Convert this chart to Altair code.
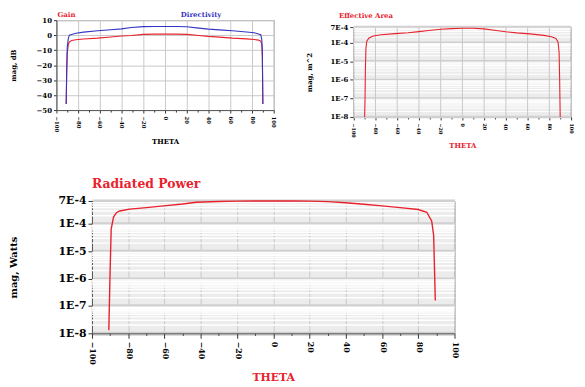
import altair as alt
import pandas as pd

# ---------------- data ----------------
theta_ga = [-91, -90.5, -90, -89, -88, -86, -82, -75, -62, -50, -40, -31, -20, -10,
            0, 10, 20, 31, 40, 50, 62, 75, 82, 86, 88, 89, 89.5, 90]
gain_db = [-46, -25, -12, -6, -4.5, -3.6, -3.1, -2.6, -2.0, -1.2, -0.6, -0.2, 0.5, 0.7,
           0.7, 0.7, 0.5, -0.2, -0.8, -1.3, -2.0, -2.5, -2.9, -3.3, -4.0, -6, -14, -46]
directivity_db = [-46, -22, -8, -2, 0.0, 0.5, 1.3, 2.0, 2.9, 3.6, 4.2, 5.1, 5.7, 5.8,
                  5.8, 5.8, 5.6, 4.7, 4.0, 3.5, 2.9, 2.1, 1.6, 0.8, 0.3, -3, -10, -46]

theta_area = [-90, -89.6, -89.3, -88.8, -88, -86, -82, -75, -62, -50, -40, -31, -20, -10,
              0, 10, 20, 31, 40, 50, 62, 75, 82, 86, 88, 89, 89.5, 90]
eff_area = [1e-8, 1e-7, 3e-6, 5e-5, 1.2e-4, 1.8e-4, 2.3e-4, 2.7e-4, 3.1e-4, 3.5e-4, 4.0e-4,
            4.6e-4, 5.3e-4, 5.8e-4, 6.0e-4, 6.0e-4, 5.6e-4, 4.6e-4, 3.9e-4, 3.4e-4, 3.0e-4,
            2.5e-4, 2.1e-4, 1.7e-4, 1.1e-4, 3e-5, 1e-6, 1e-8]

theta_pw = [-90.7, -90.0, -89.4, -88.1, -86.5, -84.7, -79.2, -70, -60.5, -50, -42.5, -30,
            -20.5, -10, 0, 10, 20, 30, 40, 50, 60, 70, 80, 84.7, 87.4, 88.5, 89.4]
rad_power = [1.3e-8, 1.8e-6, 6.5e-5, 1.8e-4, 2.6e-4, 3.0e-4, 3.5e-4, 4.0e-4, 4.6e-4, 5.4e-4,
             6.3e-4, 6.7e-4, 6.9e-4, 7e-4, 7e-4, 7e-4, 6.9e-4, 6.6e-4, 6.0e-4, 5.3e-4,
             4.6e-4, 4.0e-4, 3.4e-4, 2.7e-4, 1.3e-4, 3.8e-5, 1.6e-7]

series_names = ["Gain", "Directivity"]
x_ticks = [-100, -90, -80, -70, -60, -50, -40, -30, -20, -10, 0,
           10, 20, 30, 40, 50, 60, 70, 80, 90, 100]
x_major = [-100, -80, -60, -40, -20, 0, 20, 40, 60, 80, 100]
db_ticks = [10, 0, -10, -20, -30, -40, -50]
log_ticks = [7e-4, 1e-4, 1e-5, 1e-6, 1e-7, 1e-8]
minor_grid = [m * d for d in [1e-8, 1e-7, 1e-6, 1e-5, 1e-4] for m in [2, 3, 4, 5, 6, 7, 8, 9]
              if m * d < 7e-4]

RED = "#e8222c"
BLUE = "#3434c4"
FONT = "DejaVu Serif"
GRID = "#c8c8c8"
BAND = "#d0d0d0"
MAJOR20 = "datum.value % 20 === 0"


def theta_axis(label_size, title_size, title_color, title_pad, tick_big, label_pad, grid=True):
    return alt.Axis(
        values=x_ticks, labelExpr=f"{MAJOR20} ? datum.label : ''", labelAngle=90,
        labelOverlap=False, labelFlush=False,
        labelFont=FONT, labelFontWeight="bold", labelFontSize=label_size, labelColor="black",
        labelPadding=label_pad,
        tickSize={"condition": {"test": MAJOR20, "value": tick_big}, "value": 2},
        tickColor="#333", domainColor="#555",
        grid=grid, gridColor=GRID,
        gridOpacity={"condition": {"test": MAJOR20, "value": 1}, "value": 0},
        title="THETA", titleFont=FONT, titleFontWeight="bold", titleFontSize=title_size,
        titleColor=title_color, titlePadding=title_pad,
    )


def log_axis(label_size, title, title_size, title_x, grid_w, grid=True):
    return alt.Axis(
        values=log_ticks, labelExpr="upper(format(datum.value, '.0e'))",
        labelOverlap=False,
        labelFont=FONT, labelFontWeight="bold", labelFontSize=label_size, labelColor="black",
        tickColor="#333", domainColor="#555", tickSize=4, labelPadding=2,
        grid=grid, gridColor=BAND, gridWidth=grid_w,
        title=title, titleFont=FONT, titleFontWeight="bold", titleFontSize=title_size,
        titleColor="black", titleX=title_x,
    )


x_scale = alt.Scale(domain=[-100, 100], nice=False, zero=False)
df_minor = pd.DataFrame({"v": minor_grid})
df_decades = pd.DataFrame({"v": log_ticks})
df_xmajor = pd.DataFrame({"t": x_major})

# ---------------- top-left: Gain / Directivity ----------------
n = len(theta_ga)
df_ga = pd.DataFrame({
    "theta": theta_ga + theta_ga,
    "value": gain_db + directivity_db,
    "series": [series_names[0]] * n + [series_names[1]] * n,
})
color_scale = alt.Scale(domain=series_names, range=[RED, BLUE])
ga_lines = alt.Chart(df_ga).mark_line(strokeWidth=1.1).encode(
    x=alt.X("theta:Q", scale=x_scale, axis=theta_axis(5.5, 7, "black", 6, 3, 3)),
    y=alt.Y("value:Q", scale=alt.Scale(domain=[-50, 10], nice=False),
            axis=alt.Axis(values=db_ticks, labelFont=FONT, labelFontWeight="bold",
                          labelFontSize=7, labelColor="black", tickColor="#333",
                          domainColor="#555", tickSize=3, labelPadding=2,
                          grid=True, gridColor=GRID,
                          title="mag, dB", titleFont=FONT, titleFontWeight="bold",
                          titleFontSize=7, titleColor="black", titleX=-40)),
    color=alt.Color("series:N", scale=color_scale, legend=None),
    detail="series:N",
)
df_names = pd.DataFrame({"series": series_names})


def name_label(idx, xpos):
    return alt.Chart(df_names).transform_filter(
        alt.datum.series == series_names[idx]
    ).mark_text(font=FONT, fontWeight="bold", fontSize=7, align="left",
                baseline="bottom").encode(
        x=alt.value(xpos), y=alt.value(-2), text="series:N",
        color=alt.Color("series:N", scale=color_scale, legend=None),
    )


panel_a = alt.layer(ga_lines, name_label(0, 1), name_label(1, 126)).properties(
    width=220, height=91,
    view=alt.ViewBackground(fill="white", stroke="#999"),
)

# ---------------- top-right: Effective Area (plot area starts 7px lower) ----------------
df_area = pd.DataFrame({"theta": theta_area, "value": eff_area})
B_W, B_H, B_TOP = 220, 98, 7
area_y_scale = alt.Scale(type="log", domain=[1e-8, 7e-4], nice=False, range=[B_H, B_TOP])
b_theta_axis = theta_axis(5, 7, RED, 4, 3, 3, grid=False)

b_bg = alt.Chart(pd.DataFrame({"a": [0]})).mark_rect(
    fill="#ececec", stroke="#888", strokeWidth=1
).encode(x=alt.value(0), x2=alt.value(B_W), y=alt.value(B_TOP), y2=alt.value(B_H))
b_dec = alt.Chart(df_decades).mark_rule(color=BAND, strokeWidth=2.5).encode(
    y=alt.Y("v:Q", scale=area_y_scale, axis=log_axis(7, "mag, m^2", 7, -42, 2.5, grid=False))
)
b_minor = alt.Chart(df_minor).mark_rule(color="white", strokeWidth=1).encode(
    y=alt.Y("v:Q", scale=area_y_scale)
)
b_vgrid = alt.Chart(df_xmajor).mark_rule(color=GRID, strokeWidth=1).encode(
    x=alt.X("t:Q", scale=x_scale, axis=b_theta_axis),
    y=alt.value(B_TOP), y2=alt.value(B_H),
)
b_line = alt.Chart(df_area).mark_line(color=RED, strokeWidth=1.1).encode(
    x=alt.X("theta:Q", scale=x_scale, axis=b_theta_axis),
    y=alt.Y("value:Q", scale=area_y_scale),
)
panel_b = alt.layer(b_bg, b_dec, b_minor, b_vgrid, b_line).properties(
    width=B_W, height=B_H,
    title=alt.TitleParams("Effective Area", anchor="start", frame="group", color=RED,
                          font=FONT, fontWeight="bold", fontSize=7, dx=-15, offset=1),
    view=alt.ViewBackground(fill=None, stroke=None),
)

# ---------------- bottom: Radiated Power ----------------
df_pw = pd.DataFrame({"theta": theta_pw, "value": rad_power})
pw_y_scale = alt.Scale(type="log", domain=[1e-8, 7e-4], nice=False)
c_minor = alt.Chart(df_minor).mark_rule(color="white", strokeWidth=1.5).encode(
    y=alt.Y("v:Q", scale=pw_y_scale, axis=log_axis(11, "mag, Watts", 10, -74, 4))
)
c_line = alt.Chart(df_pw).mark_line(color=RED, strokeWidth=1.4).encode(
    x=alt.X("theta:Q", scale=x_scale, axis=theta_axis(8, 11, RED, 7, 5, 3)),
    y=alt.Y("value:Q", scale=pw_y_scale),
)
panel_c = alt.layer(c_minor, c_line).properties(
    width=367, height=134,
    title=alt.TitleParams("Radiated Power", anchor="start", frame="group", color=RED,
                          font=FONT, fontWeight="bold", fontSize=12.5, offset=5),
    view=alt.ViewBackground(fill="#ececec", stroke="#888"),
)

spacer = alt.Chart(pd.DataFrame({"a": [0]})).mark_point(opacity=0).encode(
    x=alt.value(0), y=alt.value(0)
).properties(width=1, height=1, view=alt.ViewBackground(fill=None, stroke=None))

top = alt.hconcat(panel_a, panel_b, spacing=28)
bottom = alt.hconcat(spacer, panel_c, spacing=-52)
chart = alt.vconcat(top, bottom, spacing=29).properties(
    padding={"left": 0, "top": 0, "right": 4, "bottom": 0},
    background="white",
)

chart.save("out.html", embed_options={"renderer": "svg", "actions": False})
